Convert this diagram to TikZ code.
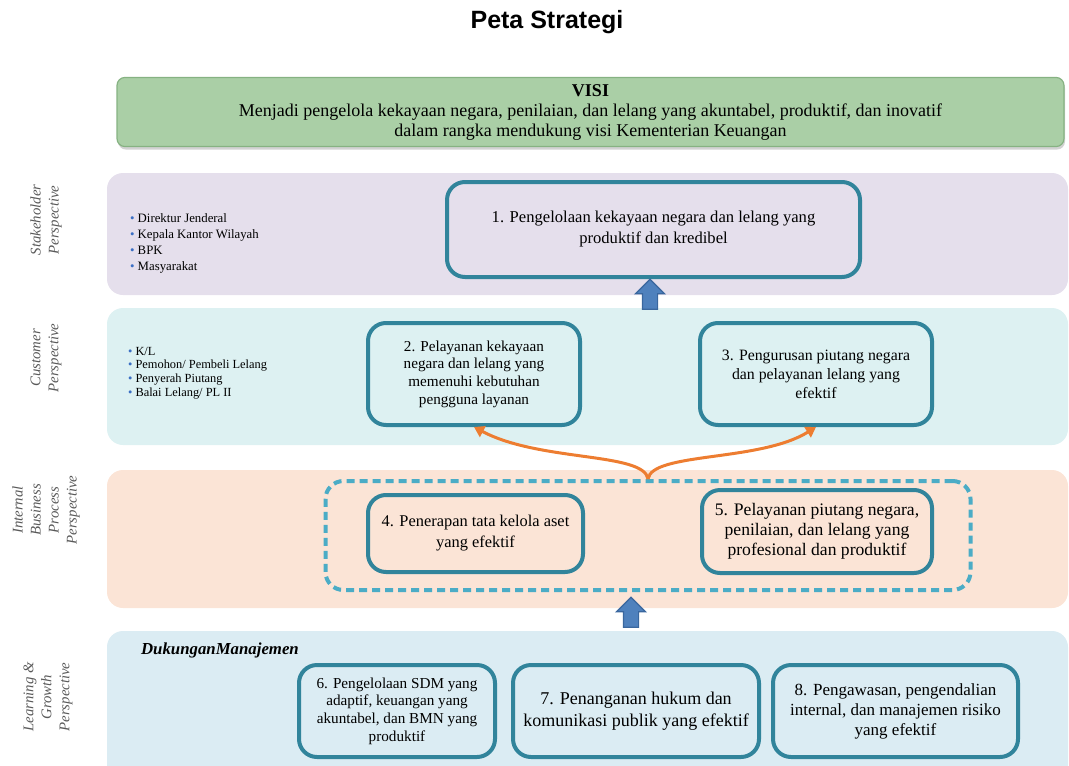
\documentclass[tikz,border=0pt]{standalone}
\usepackage{fontspec}
\setmainfont{Liberation Serif}
\newfontfamily\headfont{Liberation Sans}
\usetikzlibrary{shapes.arrows,arrows.meta,shadows}
\definecolor{visifill}{HTML}{AACFA6}
\definecolor{visiline}{HTML}{86B282}
\definecolor{stakefill}{HTML}{E5DFEC}
\definecolor{custfill}{HTML}{DDF1F2}
\definecolor{procfill}{HTML}{FBE4D6}
\definecolor{learnfill}{HTML}{DBECF3}
\definecolor{goalline}{HTML}{31849B}
\definecolor{dashline}{HTML}{4BACC6}
\definecolor{arrowblue}{HTML}{4F81BD}
\definecolor{arrowline}{HTML}{3A679E}
\definecolor{linkorange}{HTML}{ED7D31}
\definecolor{perspgray}{HTML}{595959}
\definecolor{bulletblue}{HTML}{3B6FC4}
\newcommand\blt{{\color{bulletblue}\textbullet}\ }
\newcommand\fs[2]{\fontsize{#1}{#2}\selectfont}
\tikzset{
goal/.style={draw=goalline,line width=2pt,rounded corners=9pt,align=center,
  font=\fs{7.6}{8.8},inner sep=2pt},
persp/.style={rotate=90,align=center,text=perspgray,font=\fs{7.4}{9}\itshape},
uparrow/.style={single arrow,rotate=90,fill=arrowblue,draw=arrowline,
  line width=0.6pt,minimum height=15pt,inner xsep=0pt,inner ysep=3.5pt,
  single arrow head extend=3.5pt,single arrow tip angle=90},
link/.style={linkorange,line width=1.5pt,-{Triangle[length=5pt,width=6pt]}}
}

\begin{document}
\begin{tikzpicture}[x=0.5pt,y=-0.5pt]
\useasboundingbox (0,0) rectangle (1069,765);

\node[font=\headfont\bfseries\fs{12.5}{15}] (title) at (547,22) {Peta Strategi};

\node[fill=visifill,draw=visiline,line width=0.6pt,rounded corners=4pt,
  minimum width=473.5pt,minimum height=34pt,align=center,font=\fs{9}{10},
  drop shadow={shadow xshift=0.5pt,shadow yshift=-1.5pt,fill=gray!70}]
  (visi) at (590.5,112) {\textbf{VISI}\\Menjadi pengelola kekayaan negara, penilaian, dan lelang yang akuntabel, produktif, dan inovatif\\dalam rangka mendukung visi Kementerian Keuangan};

\fill[stakefill,rounded corners=8pt] (107,173) rectangle (1068,295);
\fill[custfill,rounded corners=8pt] (107,308) rectangle (1068,445);
\fill[procfill,rounded corners=8pt] (107,470) rectangle (1068,608);
\begin{scope}
\clip (0,0) rectangle (1069,765);
\fill[learnfill,rounded corners=8pt] (107,631) rectangle (1068,790);
\end{scope}

\node[persp] (pstake) at (46,220) {Stakeholder\\Perspective};
\node[persp] (pcust) at (46,358) {Customer\\Perspective};
\node[persp] (pproc) at (46,510) {Internal\\Business\\Process\\Perspective};
\node[persp] (plearn) at (48,697) {Learning \&\\Growth\\Perspective};

\node[anchor=west,align=left,font=\fs{6.4}{8}] (stake) at (123,243)
  {\blt Direktur Jenderal\\\blt Kepala Kantor Wilayah\\\blt BPK\\\blt Masyarakat};
\node[anchor=west,align=left,font=\fs{6.2}{6.9}] (cust) at (121,373)
  {\blt K/L\\\blt Pemohon/ Pembeli Lelang\\\blt Penyerah Piutang\\\blt Balai Lelang/ PL II};

\node[goal,font=\fs{8.3}{10.5},minimum width=206.5pt,minimum height=47.5pt] (g1) at (653.5,229.5)
  {1. Pengelolaan kekayaan negara dan lelang yang\\produktif dan kredibel};
\node[goal,minimum width=106pt,minimum height=51pt] (g2) at (474,374)
  {2. Pelayanan kekayaan\\negara dan lelang yang\\memenuhi kebutuhan\\pengguna layanan};
\node[goal,font=\fs{7.9}{9.5},minimum width=116pt,minimum height=51pt] (g3) at (816,374)
  {3. Pengurusan piutang negara\\dan pelayanan lelang yang\\efektif};

\node[draw=dashline,line width=2pt,dash pattern=on 4pt off 2.5pt,rounded corners=9pt,
  minimum width=322.5pt,minimum height=54.5pt] (core) at (648,535.5) {};
\node[goal,font=\fs{8.2}{10.5},minimum width=107.5pt,minimum height=38.5pt] (g4) at (475.5,533.5)
  {4. Penerapan tata kelola aset\\yang efektif};
\node[goal,font=\fs{8.8}{10},minimum width=115pt,minimum height=41.5pt] (g5) at (817,531.5)
  {5. Pelayanan piutang negara,\\penilaian, dan lelang yang\\profesional dan produktif};

\node[anchor=west,font=\fs{8.4}{10}\bfseries\itshape] (dukung) at (134,650)
  {DukunganManajemen};
\node[goal,minimum width=98pt,minimum height=46pt] (g6) at (397,711)
  {6. Pengelolaan SDM yang\\adaptif, keuangan yang\\akuntabel, dan BMN yang\\produktif};
\node[goal,font=\fs{9}{11},minimum width=123pt,minimum height=46pt] (g7) at (636,711)
  {7. Penanganan hukum dan\\komunikasi publik yang efektif};
\node[goal,font=\fs{8.5}{10},minimum width=122.5pt,minimum height=46pt] (g8) at (895.5,711)
  {8. Pengawasan, pengendalian\\internal, dan manajemen risiko\\yang efektif};

\node[uparrow] (up1) at (650,298) {};
\node[uparrow] (up2) at (631,616) {};

\coordinate (split) at (core.north);
\draw[link] (split) .. controls (644,452) and (540,462) .. (g2.south);
\draw[link] (split) .. controls (652,452) and (760,462) .. (g3.south);
\end{tikzpicture}
\end{document}
